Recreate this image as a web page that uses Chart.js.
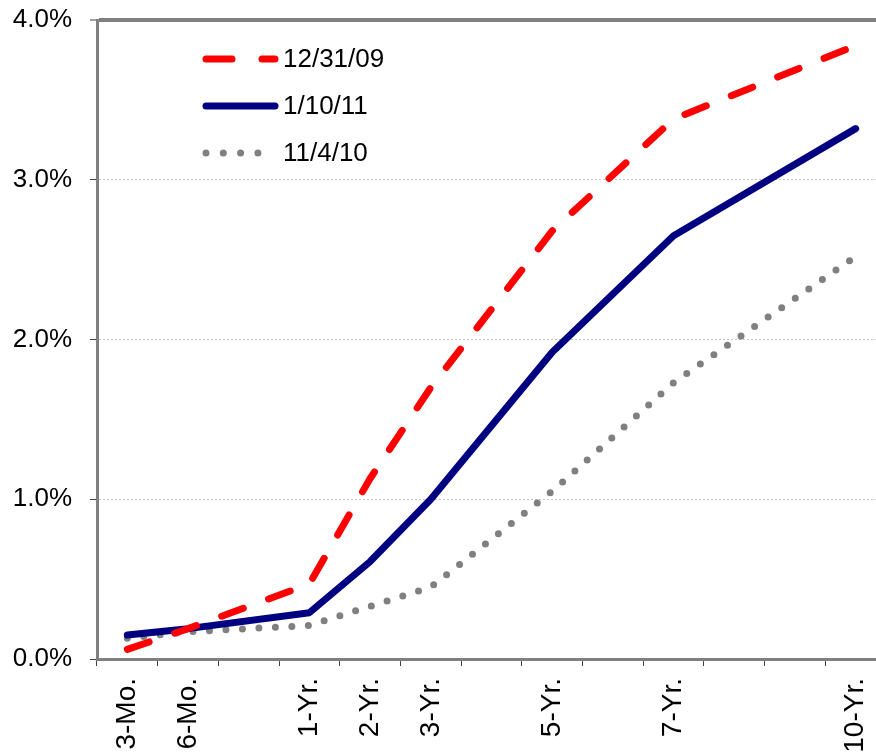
<!DOCTYPE html>
<html>
<head>
<meta charset="utf-8">
<script src="https://cdn.jsdelivr.net/npm/chart.js@4"></script>
<style>
  html, body { margin: 0; padding: 0; background: #fff; }
  body { width: 876px; height: 753px; overflow: hidden; }
  #wrap { width: 890px; height: 800px; position: relative; }
</style>
</head>
<body>
<div id="wrap"><canvas id="yieldChart"></canvas></div>
<script>
// maturities (blank slots keep the spacing of the original axis)
const maturities = ["3-Mo.", "6-Mo.", "", "1-Yr.", "2-Yr.", "3-Yr.", "", "5-Yr.", "", "7-Yr.", "", "", "10-Yr."];

// yields in %
const dec2009 = [0.06, 0.19, null, 0.47, 1.13, 1.70, null, 2.68, null, 3.38, null, null, 3.84];
const jan2011 = [0.15, 0.19, null, 0.29, 0.61, 1.00, null, 1.92, null, 2.65, null, null, 3.32];
const nov2010 = [0.13, 0.17, null, 0.21, 0.33, 0.45, null, 1.05, null, 1.73, null, null, 2.52];

const yTicks = [0, 1, 2, 3, 4];

const FONT = "Arial, 'Liberation Sans', sans-serif";

// legend drawn inside the plot, top-left
const innerLegend = {
  id: "innerLegend",
  afterDatasetsDraw(chart) {
    const ctx = chart.ctx;
    const rows = [59, 106, 153];
    chart.data.datasets.forEach((ds, i) => {
      const y = rows[i];
      ctx.save();
      ctx.strokeStyle = ds.borderColor;
      ctx.lineWidth = ds.borderWidth;
      ctx.lineCap = "round";
      ctx.setLineDash(ds.legendDash || []);
      ctx.beginPath();
      ctx.moveTo(206, y);
      ctx.lineTo(275, y);
      ctx.stroke();
      ctx.setLineDash([]);
      ctx.fillStyle = "#000";
      ctx.font = "26px " + FONT;
      ctx.textBaseline = "middle";
      ctx.textAlign = "left";
      ctx.fillText(ds.label, 283, y + 1);
      ctx.restore();
    });
  }
};

const ctx = document.getElementById("yieldChart").getContext("2d");
new Chart(ctx, {
  type: "line",
  data: {
    labels: maturities,
    datasets: [
      {
        label: "12/31/09",
        data: dec2009,
        borderColor: "#ff0000",
        borderWidth: 7,
        borderDash: [23, 27],
        legendDash: [26, 30],
        borderCapStyle: "round",
        borderJoinStyle: "round",
        pointRadius: 0,
        spanGaps: true,
        tension: 0,
      },
      {
        label: "1/10/11",
        data: jan2011,
        borderColor: "#000080",
        borderWidth: 7,
        borderCapStyle: "round",
        borderJoinStyle: "round",
        pointRadius: 0,
        spanGaps: true,
        tension: 0,
      },
      {
        label: "11/4/10",
        data: nov2010,
        borderColor: "#808080",
        borderWidth: 7,
        borderDash: [0, 16.5],
        legendDash: [0, 17.3],
        borderCapStyle: "round",
        pointRadius: 0,
        spanGaps: true,
        tension: 0,
      },
    ],
  },
  options: {
    responsive: true,
    maintainAspectRatio: false,
    animation: false,
    layout: { padding: { top: 20, right: 4, left: 0, bottom: 0 } },
    plugins: {
      legend: { display: false },
      tooltip: { enabled: false },
    },
    scales: {
      x: {
        type: "category",
        offset: true,
        border: { display: true, color: "#808080", width: 3 },
        grid: {
          display: true,
          offset: true,
          drawOnChartArea: false,
          drawTicks: true,
          tickLength: 7,
          tickColor: "#444",
          tickWidth: 1,
        },
        ticks: {
          autoSkip: false,
          minRotation: 90,
          maxRotation: 90,
          padding: 12,
          color: "#000",
          font: { family: FONT, size: 28 },
        },
        afterFit(scale) {
          scale.height = 141;
          scale.paddingLeft = 0;
          scale.paddingRight = 0;
        },
      },
      y: {
        min: 0,
        max: 4,
        afterBuildTicks(scale) {
          scale.ticks = yTicks.map((v) => ({ value: v }));
        },
        border: {
          display: true,
          color: "#808080",
          width: 3,
          dash: (c) => (c.tick && c.tick.value === 4 ? [] : [2, 2]),
        },
        grid: {
          drawTicks: true,
          tickLength: 7,
          tickColor: "#444",
          tickWidth: 1,
          color: (c) => (c.tick && c.tick.value === 4 ? "#808080" : "#c4c4c4"),
          lineWidth: (c) => (c.tick && c.tick.value === 4 ? 4 : 1),
        },
        ticks: {
          padding: 18,
          color: "#000",
          font: { family: FONT, size: 26 },
          callback: (v) => v.toFixed(1) + "%",
        },
        afterFit(scale) {
          scale.width = 97;
          scale.paddingTop = 0;
          scale.paddingBottom = 0;
        },
      },
    },
  },
  plugins: [innerLegend],
});
</script>
</body>
</html>
